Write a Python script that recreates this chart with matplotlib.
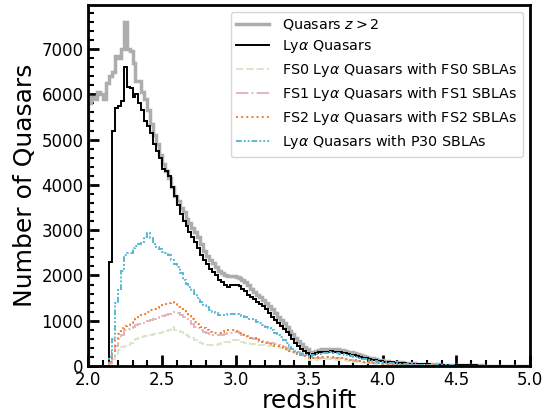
import numpy as np
import matplotlib
matplotlib.use("Agg")
import matplotlib.pyplot as plt
from matplotlib.lines import Line2D

# histogram bins: 0.02 wide from z=2 to z=5
edges = np.arange(2.0, 5.0001, 0.02)

# counts per bin (bins 2.00, 2.02, ... 4.98)
quasars_z2 = [
    5800, 5950, 5900, 6050, 6000, 5900, 6250, 6400, 6500, 6850,
    6800, 7000, 7600, 7000, 6950, 6700, 6300, 6300, 6050, 5900,
    5650, 5350, 5100, 4900, 4650, 4450, 4300, 4150, 3950, 3750,
    3650, 3500, 3400, 3250, 3150, 3050, 2950, 2850, 2700, 2550,
    2420, 2350, 2270, 2180, 2100, 2050, 2000, 1990, 1990, 1990,
    1970, 1950, 1900, 1850, 1780, 1700, 1640, 1580, 1520, 1460,
    1400, 1330, 1250, 1170, 1090, 1020, 940, 860, 780, 700,
    620, 550, 480, 420, 370,
    280, 320, 330, 350, 370, 380, 380, 385, 375, 370,
    360, 350, 340, 320, 300, 280, 260, 240, 220, 200,
    185, 170, 155, 140, 130, 120, 110, 100, 95, 90,
    85, 80, 75, 70, 65, 60, 55, 50, 48, 45,
    42, 40, 38, 35, 33, 30, 28, 26, 25, 24,
    22, 20, 19, 18, 17, 16, 15, 14, 13, 12,
    11, 10, 10, 9, 8, 8, 7, 7, 6, 6,
    5, 5, 5, 4, 4,
]

lya_quasars = [
    0, 0, 0, 0, 0, 0, 0, 2300, 5200, 5700,
    5750, 5850, 6600, 6150, 6130, 5950, 6000, 5800, 5650, 5400,
    5300, 5150, 4900, 4750, 4600, 4350, 4300, 4200, 3950, 3750,
    3550, 3350, 3200, 3100, 2950, 2850, 2750, 2600, 2450, 2350,
    2250, 2150, 2080, 2000, 1900, 1850, 1800, 1750, 1780, 1800,
    1790, 1760, 1700, 1660, 1580, 1520, 1470, 1420, 1370, 1320,
    1250, 1170, 1080, 1020, 950, 880, 820, 750, 680, 600,
    520, 450, 380, 330, 290,
    220, 260, 280, 300, 310, 320, 320, 325, 315, 310,
    300, 290, 280, 265, 250, 235, 220, 200, 185, 170,
    155, 140, 130, 120, 110, 100, 92, 85, 80, 75,
    70, 65, 60, 56, 52, 48, 45, 42, 40, 38,
    35, 33, 31, 29, 27, 25, 24, 22, 21, 20,
    19, 18, 17, 16, 15, 14, 13, 12, 11, 10,
    9, 9, 8, 8, 7, 7, 6, 6, 5, 5,
    5, 4, 4, 4, 3,
]

fs0_sbla = [
    0, 0, 0, 0, 0, 0, 0, 40, 150, 250,
    350, 420, 440, 460, 520, 570, 590, 630, 650, 660,
    670, 690, 710, 720, 740, 760, 780, 800, 860, 800,
    780, 760, 740, 690, 650, 610, 575, 540, 510, 480,
    465, 460, 465, 470, 490, 510, 530, 540, 560, 575,
    570, 550, 530, 510, 500, 490, 480, 470, 465, 460,
    450, 440, 435, 430, 415, 400, 380, 360, 340, 310,
    290, 260, 240, 220, 200,
    140, 140, 145, 150, 155, 160, 160, 155, 150, 145,
    140, 132, 124, 116, 108, 100, 92, 85, 78, 71,
    64, 58, 53, 48, 44, 40, 36, 33, 30, 27,
    25, 23, 21, 19, 17, 16, 15, 14, 13, 12,
    11, 10, 10, 9, 9, 8, 8, 7, 7, 6,
    6, 5, 5, 5, 4, 4, 4, 3, 3, 3,
    3, 2, 2, 2, 2, 2, 2, 1, 1, 1,
    1, 1, 1, 1, 1,
]

fs1_sbla = [
    0, 0, 0, 0, 0, 0, 0, 60, 200, 450,
    600, 680, 790, 820, 840, 870, 900, 930, 950, 970,
    990, 1010, 1030, 1060, 1090, 1110, 1130, 1160, 1200, 1190,
    1170, 1130, 1090, 1040, 1000, 930, 870, 830, 790, 760,
    730, 700, 685, 680, 685, 690, 700, 720, 740, 760,
    750, 720, 690, 660, 640, 620, 600, 590, 575, 560,
    540, 520, 505, 490, 470, 450, 430, 410, 380, 350,
    320, 300, 280, 250, 230,
    170, 170, 175, 180, 185, 190, 190, 185, 180, 175,
    170, 160, 150, 140, 130, 120, 112, 104, 95, 86,
    78, 70, 64, 58, 52, 47, 43, 39, 35, 32,
    29, 27, 25, 23, 21, 19, 18, 17, 16, 15,
    14, 13, 12, 11, 10, 10, 9, 9, 8, 8,
    7, 7, 6, 6, 5, 5, 5, 4, 4, 4,
    3, 3, 3, 3, 2, 2, 2, 2, 2, 2,
    1, 1, 1, 1, 1,
]

fs2_sbla = [
    0, 0, 0, 0, 0, 0, 0, 100, 300, 570,
    700, 830, 880, 900, 960, 1000, 1030, 1080, 1120, 1160,
    1200, 1240, 1270, 1290, 1310, 1340, 1360, 1390, 1420, 1370,
    1300, 1270, 1220, 1150, 1100, 1030, 980, 920, 870, 830,
    790, 750, 720, 720, 740, 750, 770, 790, 800, 790,
    770, 740, 720, 690, 660, 630, 610, 580, 560, 530,
    510, 490, 470, 450, 440, 430, 400, 370, 340, 320,
    300, 270, 250, 230, 220,
    180, 180, 185, 190, 195, 200, 200, 195, 190, 185,
    180, 170, 160, 150, 140, 130, 120, 110, 100, 90,
    82, 75, 68, 62, 56, 50, 46, 42, 38, 35,
    32, 29, 27, 25, 23, 21, 19, 18, 17, 16,
    15, 14, 13, 12, 11, 10, 10, 9, 9, 8,
    8, 7, 7, 6, 6, 5, 5, 5, 4, 4,
    4, 3, 3, 3, 3, 2, 2, 2, 2, 2,
    2, 1, 1, 1, 1,
]

p30_sbla = [
    0, 0, 0, 0, 0, 0, 0, 200, 600, 1400,
    1700, 2100, 2450, 2500, 2500, 2600, 2650, 2700, 2750, 2850,
    2930, 2820, 2700, 2630, 2580, 2520, 2500, 2450, 2350, 2250,
    2190, 2050, 1900, 1820, 1750, 1680, 1600, 1500, 1420, 1350,
    1300, 1240, 1200, 1170, 1130, 1120, 1130, 1150, 1160, 1160,
    1140, 1130, 1100, 1080, 1050, 1030, 1020, 980, 950, 910,
    870, 830, 790, 740, 690, 650, 580, 510, 440, 380,
    340, 300, 270, 250, 240,
    210, 240, 260, 275, 285, 290, 295, 300, 290, 285,
    275, 265, 255, 240, 225, 210, 195, 180, 165, 150,
    135, 120, 110, 100, 92, 85, 78, 72, 66, 60,
    55, 50, 46, 42, 39, 36, 33, 30, 28, 26,
    24, 22, 20, 19, 18, 17, 16, 15, 14, 13,
    12, 11, 10, 10, 9, 9, 8, 8, 7, 7,
    6, 6, 5, 5, 5, 4, 4, 4, 3, 3,
    3, 3, 2, 2, 2,
]

series = [
    (quasars_z2, dict(color='#adadad', lw=2.5, ls='-'), r'Quasars $z>2$'),
    (lya_quasars, dict(color='black', lw=1.4, ls='-'), r'Ly$\alpha$ Quasars'),
    (fs0_sbla, dict(color='#d6e8cc', lw=1.4, ls='--'),
     r'FS0 Ly$\alpha$ Quasars with FS0 SBLAs'),
    (fs1_sbla, dict(color='#e4b4bd', lw=1.4, ls='-.'),
     r'FS1 Ly$\alpha$ Quasars with FS1 SBLAs'),
    (fs2_sbla, dict(color='#ee7f2d', lw=1.4, ls=':'),
     r'FS2 Ly$\alpha$ Quasars with FS2 SBLAs'),
    (p30_sbla, dict(color='#5bb9d3', lw=1.4, ls=(0, (3, 1, 1, 1, 1, 1))),
     r'Ly$\alpha$ Quasars with P30 SBLAs'),
]

centers = 0.5 * (edges[:-1] + edges[1:])

fig = plt.figure(figsize=(5.56, 4.16), dpi=100)
ax = fig.add_axes([0.159, 0.120, 0.794, 0.869])

handles = []
for vals, style, lab in series:
    ax.hist(centers, bins=edges, weights=vals, histtype='step', **style)
    handles.append(Line2D([], [], label=lab, **style))

ax.set_xlim(2.0, 5.0)
ax.set_ylim(0, 7980)
ax.set_xticks([2.0, 2.5, 3.0, 3.5, 4.0, 4.5, 5.0])
ax.set_xticks(np.arange(2.0, 5.0001, 0.1), minor=True)
ax.set_yticks(np.arange(0, 7001, 1000))
ax.set_yticks(np.arange(0, 7801, 200), minor=True)
ax.tick_params(which='both', direction='in', labelsize=12)
ax.tick_params(which='major', length=8, width=2)
ax.tick_params(which='minor', length=4, width=1.5)
for s in ax.spines.values():
    s.set_linewidth(2)

ax.set_xlabel('redshift', fontsize=18, labelpad=0)
ax.set_ylabel('Number of Quasars', fontsize=18, labelpad=3)
ax.legend(handles=handles, loc='upper right', fontsize=10.3,
          handlelength=2.3, handletextpad=0.9, labelspacing=0.42)

fig.savefig('out.png', dpi=100)
